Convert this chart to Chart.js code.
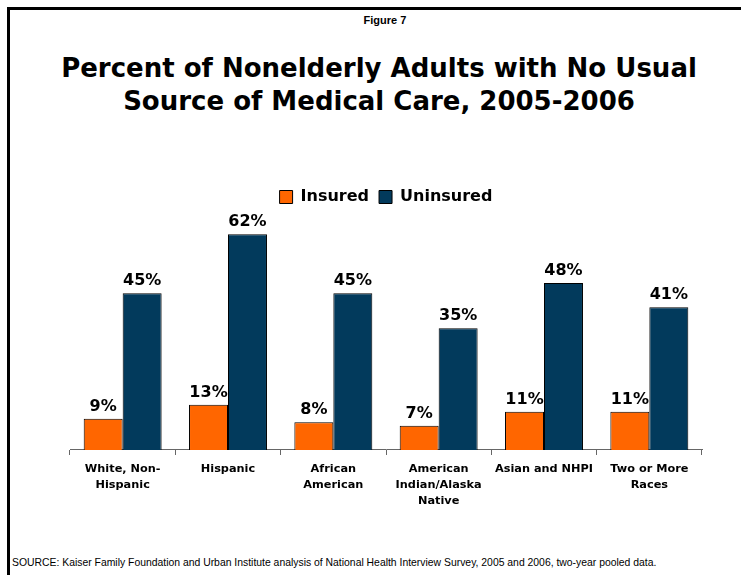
<!DOCTYPE html>
<html>
<head>
<meta charset="utf-8">
<script src="https://cdn.jsdelivr.net/npm/chart.js@4.4.0/dist/chart.umd.min.js"></script>
<style>
  html, body { margin: 0; padding: 0; background: #fff; }
  body { width: 751px; height: 575px; position: relative; overflow: hidden; }
  #frame { position: absolute; left: 7px; top: 7px; width: 734px; height: 600px;
           border-left: 3px solid #000; border-top: 3px solid #000; box-sizing: border-box; }
  #fig { position: absolute; left: 0; top: 13px; width: 770px; text-align: center;
         font: bold 11px "Liberation Sans", Arial, sans-serif; line-height: 14px; color: #000; }
  #title { position: absolute; left: 0; top: 52px; width: 758px; text-align: center;
           font: bold 26px "DejaVu Sans", sans-serif; line-height: 33px; color: #000; }
  #source { position: absolute; left: 12px; top: 557px; white-space: nowrap;
            font: 10.4px "Liberation Sans", Arial, sans-serif; line-height: 12px; color: #000; }
  canvas { position: absolute; left: 0; top: 0; }
</style>
</head>
<body>
<div id="frame"></div>
<div id="fig">Figure 7</div>
<div id="title">Percent of Nonelderly Adults with No Usual<br>Source of Medical Care, 2005-2006</div>
<div id="source">SOURCE: Kaiser Family Foundation and Urban Institute analysis of National Health Interview Survey, 2005 and 2006, two-year pooled data.</div>
<canvas id="c" width="751" height="575"></canvas>
<script>
const categories = [
  ['White, Non-', 'Hispanic'],
  ['Hispanic'],
  ['African', 'American'],
  ['American', 'Indian/Alaska', 'Native'],
  ['Asian and NHPI'],
  ['Two or More', 'Races']
];
const insured = [9, 13, 8, 7, 11, 11];
const uninsured = [45, 62, 45, 35, 48, 41];
const seriesNames = ['Insured', 'Uninsured'];

const valueLabels = {
  id: 'valueLabels',
  afterDatasetsDraw(chart) {
    const ctx = chart.ctx;
    ctx.save();
    ctx.font = 'bold 16px "DejaVu Sans", sans-serif';
    ctx.fillStyle = '#000';
    ctx.textAlign = 'center';
    ctx.textBaseline = 'alphabetic';
    chart.data.datasets.forEach((ds, i) => {
      chart.getDatasetMeta(i).data.forEach((bar, j) => {
        ctx.fillText(ds.data[j] + '%', bar.x, bar.y - 8);
      });
    });
    ctx.restore();
  }
};

new Chart(document.getElementById('c'), {
  type: 'bar',
  data: {
    labels: categories,
    datasets: [
      { label: seriesNames[0], data: insured, backgroundColor: '#FF6600', borderColor: '#000', borderWidth: 1 },
      { label: seriesNames[1], data: uninsured, backgroundColor: '#023A5C', borderColor: '#000', borderWidth: 1 }
    ]
  },
  options: {
    responsive: false,
    animation: false,
    devicePixelRatio: 1,
    categoryPercentage: 0.74,
    barPercentage: 1,
    layout: { padding: { top: 179, left: 70, right: 49, bottom: 60 } },
    plugins: {
      legend: {
        position: 'top',
        labels: {
          boxWidth: 13, boxHeight: 13, padding: 10, color: '#000',
          font: { family: '"DejaVu Sans", sans-serif', weight: 'bold', size: 16 }
        }
      },
      tooltip: { enabled: false },
      title: { display: false }
    },
    scales: {
      x: {
        grid: { display: true, drawOnChartArea: false, drawTicks: true, tickLength: 5, color: '#666', offset: true },
        border: { display: true, color: '#666', width: 1 },
        ticks: {
          color: '#000', padding: 6, maxRotation: 0, autoSkip: false,
          font: { family: '"DejaVu Sans", sans-serif', weight: 'bold', size: 11.3, lineHeight: 1.416 }
        }
      },
      y: { display: false, min: 0, max: 67.5 }
    }
  },
  plugins: [valueLabels]
});
</script>
</body>
</html>
